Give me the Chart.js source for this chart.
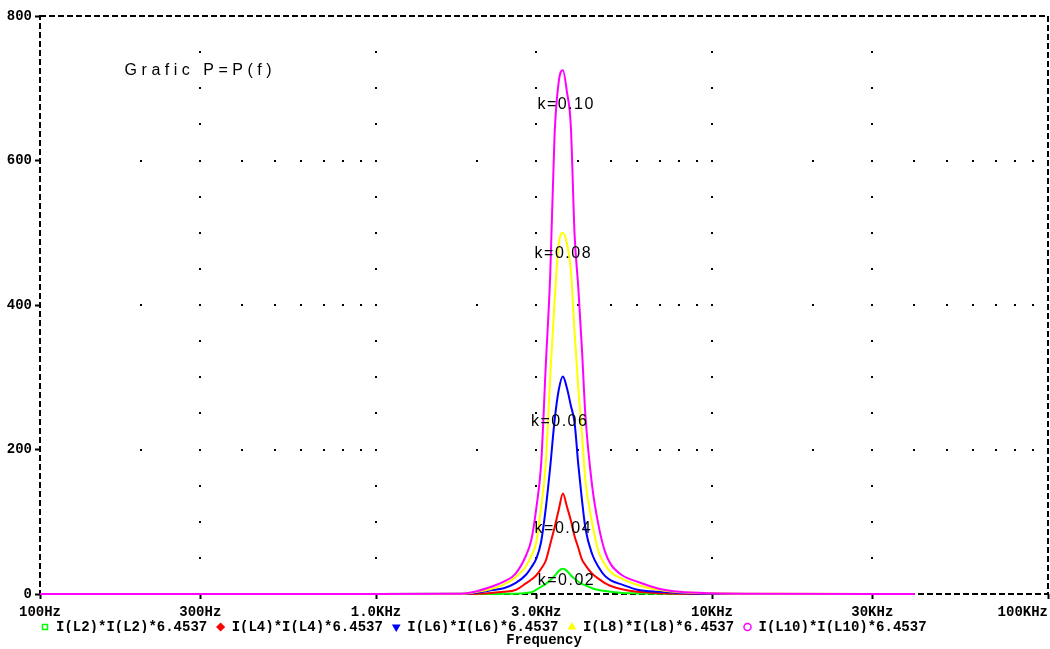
<!DOCTYPE html>
<html>
<head>
<meta charset="utf-8">
<script src="https://cdn.jsdelivr.net/npm/chart.js@4.4.1/dist/chart.umd.min.js"></script>
<style>
  html, body { margin: 0; padding: 0; background: #fff; }
  canvas { display: block; }
</style>
</head>
<body>
<canvas id="power-chart" width="1050" height="649"></canvas>
<script>
// sweep frequencies (Hz), shared by every trace
const frequencies = [100, 1000, 1800, 2000, 2200, 2400, 2600, 2800, 2900, 3000, 3100, 3200, 3300, 3400, 3500, 3600,
    3700, 3800, 3900, 4000, 4100, 4200, 4400, 4600, 4800, 5000, 5400, 6000, 7000, 8000, 10000, 15000, 40000];

// P = I*I*R for each coupling factor
const powerL2 = [0, 0, 0, 0, 0, 0.2, 0.5, 1.5, 2.5, 6, 10, 14, 19, 25, 32, 35,
    32, 26, 21, 17, 14, 12, 8, 5.5, 4, 3, 1.5, 0.8, 0.3, 0, 0, 0, 0];
const powerL4 = [0, 0, 0, 0.5, 1.5, 3, 5.5, 15, 20, 26, 35, 46, 69, 92, 117, 139,
    121, 102, 80, 64, 48, 40, 28, 21, 15, 11, 6.5, 3, 1.2, 0.4, 0, 0, 0];
const powerL6 = [0, 0, 0.2, 2, 5, 8, 15, 27, 37, 49, 72, 118, 176, 240, 283, 301,
    285, 261, 237, 179, 131, 91, 55, 37, 25, 19, 13, 6, 3, 1.5, 0.5, 0, 0];
const powerL8 = [0, 0, 0.3, 3, 7, 13, 23, 39, 53, 72, 120, 180, 301, 405, 485, 500,
    485, 449, 362, 285, 223, 157, 98, 58, 41, 30, 21, 12.5, 5.5, 2.5, 1, 0.2, 0];
const powerL10 = [0, 0, 0.5, 4, 10, 17, 28, 54, 75, 119, 179, 315, 442, 636, 710, 725,
    695, 648, 497, 424, 340, 247, 149, 94, 59, 41, 26, 17, 7, 3, 1, 0.3, 0];

const traceNames = ['I(L2)*I(L2)*6.4537', 'I(L4)*I(L4)*6.4537', 'I(L6)*I(L6)*6.4537',
    'I(L8)*I(L8)*6.4537', 'I(L10)*I(L10)*6.4537'];
const traceValues = [powerL2, powerL4, powerL6, powerL8, powerL10];
const traceColors = ['#00ff00', '#ff0000', '#0000ff', '#ffff00', '#ff00ff'];
const traceMarkers = ['rect', 'rectRot', 'triangle', 'triangle', 'circle'];
const markerRotation = [0, 0, 180, 0, 0];
const markerFill = ['#ffffff', '#ff0000', '#0000ff', '#ffff00', '#ffffff'];

const xTickValues = [100, 300, 1000, 3000, 10000, 30000, 100000];
const xTickLabels = ['100Hz', '300Hz', '1.0KHz', '3.0KHz', '10KHz', '30KHz', '100KHz'];

// text placed on the plot (anchored in data coordinates)
const notes = [
    { text: 'Grafic P=P(f)', freq: 300, value: 725, spacing: 4.5 },
    { text: 'k=0.10', freq: 3680, value: 677, spacing: 1.5 },
    { text: 'k=0.08', freq: 3610, value: 471, spacing: 1.5 },
    { text: 'k=0.06', freq: 3520, value: 239, spacing: 1.5 },
    { text: 'k=0.04', freq: 3610, value: 91, spacing: 1.5 },
    { text: 'k=0.02', freq: 3690, value: 18, spacing: 1.5 }
];

const dotRows = [200, 400, 600];
const dotColumns = [300, 1000, 3000, 10000, 30000];

const pixelFont = { family: 'Liberation Mono', size: 14, weight: 'bold', lineHeight: 1 };
const tickMarks = { display: true, drawOnChartArea: false, drawTicks: true, tickLength: 5, tickWidth: 2, tickColor: '#000' };

// dashed frame + dotted grid like the probe window
const probeGrid = {
    id: 'probeGrid',
    beforeDatasetsDraw(chart) {
        const { ctx, chartArea: a, scales: { x, y } } = chart;
        const dot = (px, py) => ctx.fillRect(Math.round(px) - 1, Math.round(py) - 1, 2, 2);
        ctx.save();
        ctx.strokeStyle = '#000';
        ctx.lineWidth = 2;
        ctx.setLineDash([6, 3]);
        ctx.strokeRect(a.left, a.top, a.right - a.left, a.bottom - a.top);
        ctx.setLineDash([]);
        ctx.fillStyle = '#000';
        dotRows.forEach(v => {
            for (let decade = 100; decade < 100000; decade *= 10) {
                for (let m = 2; m <= 10; m++) {
                    if (decade * m < 100000) dot(x.getPixelForValue(decade * m), y.getPixelForValue(v));
                }
            }
        });
        dotColumns.forEach(f => {
            for (let v = 50; v < 800; v += 50) {
                dot(x.getPixelForValue(f), y.getPixelForValue(v));
            }
        });
        ctx.restore();
    }
};

const plotNotes = {
    id: 'plotNotes',
    afterDatasetsDraw(chart) {
        const { ctx, scales: { x, y } } = chart;
        ctx.save();
        ctx.fillStyle = '#000';
        ctx.font = '16px "Liberation Sans"';
        ctx.textAlign = 'center';
        ctx.textBaseline = 'middle';
        notes.forEach(n => {
            ctx.letterSpacing = n.spacing + 'px';
            ctx.fillText(n.text, x.getPixelForValue(n.freq), y.getPixelForValue(n.value));
        });
        ctx.restore();
    }
};

const datasets = traceValues.map((values, i) => ({
    label: traceNames[i],
    data: frequencies.map((f, j) => ({ x: f, y: values[j] })),
    borderColor: traceColors[i],
    borderWidth: 2,
    fill: false,
    clip: 3,   // let the zero line sit on top of the bottom frame
    cubicInterpolationMode: 'monotone',
    pointRadius: 0,
    pointStyle: traceMarkers[i],
    pointRotation: markerRotation[i],
    pointBackgroundColor: markerFill[i],
    pointBorderColor: traceColors[i],
    pointBorderWidth: 1.5,
    order: traceValues.length - i   // L10 ends up on top
}));

const ctx = document.getElementById('power-chart').getContext('2d');
const powerChart = new Chart(ctx, {
    type: 'line',
    data: { datasets: datasets },
    options: {
        responsive: false,
        animation: false,
        devicePixelRatio: 1,
        events: [],
        layout: { padding: { top: 16, right: 2, left: 0, bottom: 0 } },
        scales: {
            x: {
                type: 'logarithmic',
                min: 100,
                max: 100000,
                afterBuildTicks: (scale) => { scale.ticks = xTickValues.map(v => ({ value: v })); },
                afterFit: (scale) => { scale.height = 25; scale.paddingRight = 0; },
                ticks: {
                    color: '#000',
                    font: pixelFont,
                    padding: 6,
                    autoSkip: false,
                    maxRotation: 0,
                    minRotation: 0,
                    // last label is padded so it ends at the right edge instead of overflowing
                    callback: (value, index) => {
                        const label = xTickLabels[index];
                        return index === xTickLabels.length - 1 ? label + ' '.repeat(label.length) : label;
                    }
                },
                grid: tickMarks,
                border: { display: false }
            },
            y: {
                min: 0,
                max: 800,
                afterFit: (scale) => { scale.width = 40; },
                ticks: { stepSize: 200, color: '#000', font: pixelFont, padding: 3 },
                grid: tickMarks,
                border: { display: false }
            }
        },
        plugins: {
            legend: {
                position: 'bottom',
                align: 'start',
                fullSize: false,
                maxHeight: 14,
                labels: {
                    usePointStyle: true,
                    boxWidth: 8,
                    boxHeight: 5,
                    padding: 1,
                    color: '#000',
                    font: pixelFont,
                    sort: (a, b) => a.datasetIndex - b.datasetIndex,
                    // one trailing space keeps the gap between entries
                    generateLabels: (chart) => Chart.defaults.plugins.legend.labels.generateLabels(chart)
                        .map(item => ({ ...item, text: item.text + ' ' }))
                }
            },
            title: {
                display: true,
                text: 'Frequency',
                position: 'bottom',
                fullSize: false,
                color: '#000',
                font: pixelFont,
                padding: { top: 0, bottom: 2 }
            },
            tooltip: { enabled: false }
        }
    },
    plugins: [probeGrid, plotNotes]
});
</script>
</body>
</html>
